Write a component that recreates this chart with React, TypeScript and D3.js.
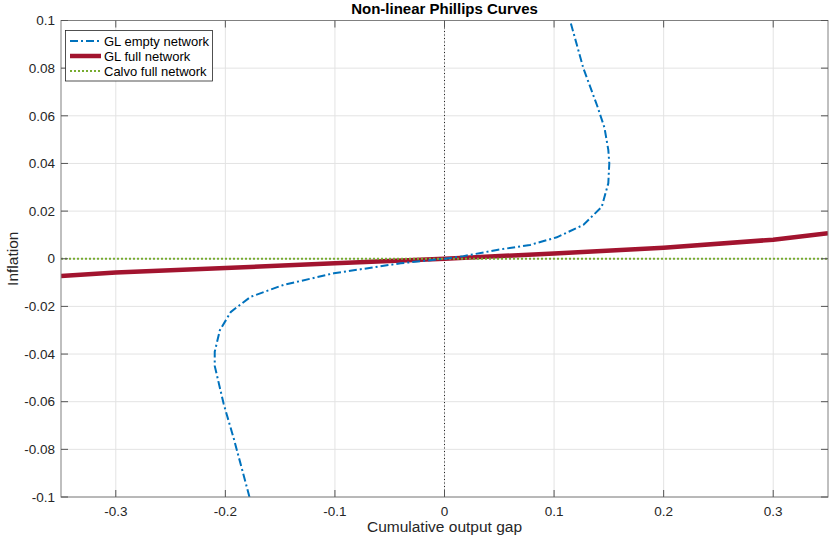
import React, { useRef, useEffect } from 'react';
import * as d3 from 'd3';

// GL empty network (ordered along the curve)
const emptyX = [-0.178, -0.192, -0.2015, -0.2097, -0.2097, -0.205, -0.195, -0.177, -0.147, -0.101, -0.04, 0, 0.0173, 0.0478, 0.078, 0.1025, 0.1267, 0.1435, 0.1495, 0.1504, 0.1495, 0.146, 0.1395, 0.1267, 0.1146];
const emptyY = [-0.1, -0.076, -0.061, -0.045, -0.039, -0.03, -0.0223, -0.016, -0.011, -0.0061, -0.0019, 0, 0.0011, 0.0037, 0.0058, 0.009, 0.0142, 0.0218, 0.0317, 0.04, 0.0457, 0.055, 0.064, 0.08, 0.1];

// GL full network
const fullX = [-0.35, -0.3, -0.2, -0.1, 0, 0.1, 0.2, 0.3, 0.35];
const fullY = [-0.0072, -0.0058, -0.0039, -0.0019, 0, 0.0022, 0.0046, 0.008, 0.0107];

// Calvo full network
const calvoX = [-0.35, 0.35];
const calvoY = [0, 0];

const xTicks = [-0.3, -0.2, -0.1, 0, 0.1, 0.2, 0.3];
const yTicks = [-0.1, -0.08, -0.06, -0.04, -0.02, 0, 0.02, 0.04, 0.06, 0.08, 0.1];

const legendLabels = ['GL empty network', 'GL full network', 'Calvo full network'];

const W = 829;
const H = 538;

const App = () => {
  const svgRef = useRef<SVGSVGElement>(null);

  useEffect(() => {
    const svg = d3.select(svgRef.current);
    svg.selectAll('*').remove();

    const left = 61, right = 828, top = 20.5, bottom = 497;
    const font = 'Helvetica, Arial, "Liberation Sans", sans-serif';

    const x = d3.scaleLinear().domain([-0.35, 0.35]).range([left, right]);
    const y = d3.scaleLinear().domain([-0.1, 0.1]).range([bottom, top]);

    svg.append('rect').attr('width', W).attr('height', H).attr('fill', 'white');

    // grid
    const grid = svg.append('g').attr('stroke', '#e3e3e3').attr('stroke-width', 1);
    xTicks.forEach(t => {
      grid.append('line').attr('x1', x(t)).attr('x2', x(t)).attr('y1', top).attr('y2', bottom);
    });
    yTicks.forEach(t => {
      grid.append('line').attr('x1', left).attr('x2', right).attr('y1', y(t)).attr('y2', y(t));
    });

    svg.append('defs').append('clipPath').attr('id', 'plot-clip')
      .append('rect').attr('x', left).attr('y', top).attr('width', right - left).attr('height', bottom - top);

    const plot = svg.append('g').attr('clip-path', 'url(#plot-clip)');

    // dotted zero line
    plot.append('line')
      .attr('x1', x(0)).attr('x2', x(0)).attr('y1', top).attr('y2', bottom)
      .attr('stroke', '#222').attr('stroke-width', 1).attr('stroke-dasharray', '1,2.5');

    const line = d3.line<[number, number]>().x(d => x(d[0])).y(d => y(d[1]));

    const fullPts = fullX.map((v, i) => [v, fullY[i]] as [number, number]);
    const calvoPts = calvoX.map((v, i) => [v, calvoY[i]] as [number, number]);
    const emptyPts = emptyX.map((v, i) => [v, emptyY[i]] as [number, number]);

    plot.append('path').datum(fullPts)
      .attr('d', line).attr('fill', 'none')
      .attr('stroke', '#A2142F').attr('stroke-width', 4.5);

    plot.append('path').datum(calvoPts)
      .attr('d', line).attr('fill', 'none')
      .attr('stroke', '#77AC30').attr('stroke-width', 2).attr('stroke-dasharray', '2,2');

    plot.append('path').datum(emptyPts)
      .attr('d', line).attr('fill', 'none')
      .attr('stroke', '#0072BD').attr('stroke-width', 2).attr('stroke-dasharray', '8,3,2,3');

    // axes box
    svg.append('rect')
      .attr('x', left).attr('y', top).attr('width', right - left).attr('height', bottom - top)
      .attr('fill', 'none').attr('stroke', '#808080').attr('stroke-width', 1);

    // ticks (inward, all four sides)
    const ticks = svg.append('g').attr('stroke', '#555').attr('stroke-width', 1);
    xTicks.forEach(t => {
      ticks.append('line').attr('x1', x(t)).attr('x2', x(t)).attr('y1', bottom).attr('y2', bottom - 7);
      ticks.append('line').attr('x1', x(t)).attr('x2', x(t)).attr('y1', top).attr('y2', top + 7);
    });
    yTicks.forEach(t => {
      ticks.append('line').attr('x1', left).attr('x2', left + 7).attr('y1', y(t)).attr('y2', y(t));
      ticks.append('line').attr('x1', right).attr('x2', right - 7).attr('y1', y(t)).attr('y2', y(t));
    });

    // tick labels
    const fmt = (v: number) => (v === 0 ? '0' : String(+v.toFixed(2)));
    svg.append('g').selectAll('text').data(xTicks).join('text')
      .attr('x', d => x(d)).attr('y', bottom + 19)
      .attr('text-anchor', 'middle').attr('font-family', font).attr('font-size', 13.5)
      .attr('fill', '#262626').text(fmt);

    svg.append('g').selectAll('text').data(yTicks).join('text')
      .attr('x', left - 6).attr('y', d => y(d)).attr('dy', '0.35em')
      .attr('text-anchor', 'end').attr('font-family', font).attr('font-size', 13.5)
      .attr('fill', '#262626').text(fmt);

    // title and axis labels
    svg.append('text')
      .attr('x', (left + right) / 2).attr('y', 14)
      .attr('text-anchor', 'middle').attr('font-family', font).attr('font-size', 15)
      .attr('font-weight', 'bold').attr('fill', 'black').text('Non-linear Phillips Curves');

    svg.append('text')
      .attr('x', (left + right) / 2).attr('y', 532)
      .attr('text-anchor', 'middle').attr('font-family', font).attr('font-size', 15.5)
      .attr('fill', '#262626').text('Cumulative output gap');

    svg.append('text')
      .attr('transform', `translate(18,${(top + bottom) / 2}) rotate(-90)`)
      .attr('text-anchor', 'middle').attr('font-family', font).attr('font-size', 15.5)
      .attr('fill', '#262626').text('Inflation');

    // legend
    const lg = svg.append('g');
    lg.append('rect').attr('x', 65.5).attr('y', 30.5).attr('width', 147).attr('height', 50.5)
      .attr('fill', 'white').attr('stroke', '#262626').attr('stroke-width', 0.8);
    const styles = [
      { color: '#0072BD', width: 2, dash: '8,3,2,3' },
      { color: '#A2142F', width: 4.5, dash: null },
      { color: '#77AC30', width: 2, dash: '2,2' },
    ];
    legendLabels.forEach((label, i) => {
      const ly = 41 + i * 15;
      const s = styles[i];
      const ln = lg.append('line').attr('x1', 70).attr('x2', 101).attr('y1', ly).attr('y2', ly)
        .attr('stroke', s.color).attr('stroke-width', s.width);
      if (s.dash) ln.attr('stroke-dasharray', s.dash);
      lg.append('text').attr('x', 104).attr('y', ly).attr('dy', '0.35em')
        .attr('font-family', font).attr('font-size', 13).attr('fill', 'black').text(label);
    });
  }, []);

  return (
    <div style={{ position: 'absolute', left: 0, top: 0 }}>
      <svg ref={svgRef} width={W} height={H} style={{ display: 'block' }} />
    </div>
  );
};

export default App;
